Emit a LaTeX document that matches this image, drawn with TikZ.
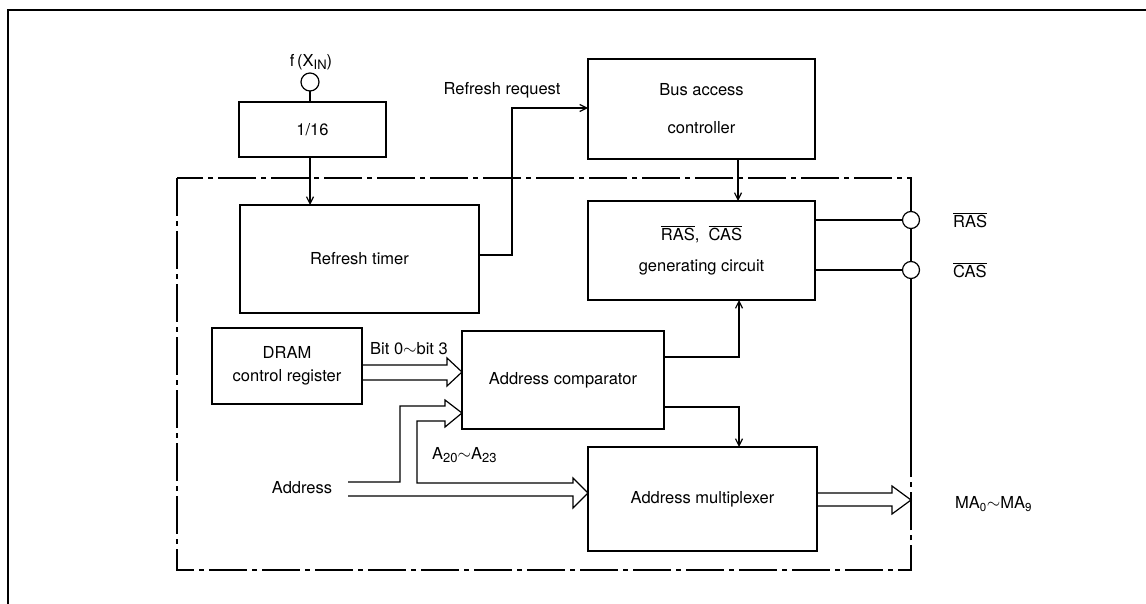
\documentclass[tikz,border=0pt]{standalone}
\usepackage{fontspec}
\setmainfont{TeX Gyre Heros}
\usetikzlibrary{arrows.meta}
\newcommand\lowsub[1]{\raisebox{-0.4ex}{\fontsize{13}{13}\selectfont #1}}
\begin{document}
\begin{tikzpicture}[x=1pt,y=-1pt,
  >={Straight Barb[length=7pt,width=7pt]},
  every node/.style={font=\fontsize{16.5}{19}\selectfont},
  blk/.style={draw,line width=2.4pt,inner sep=0pt,outer sep=0pt,align=center},
  conn/.style={line width=1.2pt},
  busline/.style={line width=1.2pt,line join=miter},
  frameline/.style={line width=2pt},
  dashdotbox/.style={line width=1.2pt,dash pattern=on 38pt off 5pt on 5pt off 5pt},
  port/.style={circle,draw,fill=white,line width=1.2pt,minimum size=17pt,inner sep=0pt,outer sep=0pt},
  lbl/.style={inner sep=0pt}]
\useasboundingbox (0,0) rectangle (1146,604);
% outer frame
\draw[frameline] (8,604) -- (8,10) -- (1146,10);
% dash-dot enclosure
\draw[dashdotbox] (177,178) rectangle (911,570);
% blocks
\node[blk,minimum width=147pt,minimum height=55pt] (div) at (312.5,129.5) {1/16};
\node[blk,minimum width=239pt,minimum height=108pt] (timer) at (359.5,259) {Refresh timer};
\node[blk,minimum width=227pt,minimum height=100pt] (bus) at (701.5,109) {Bus access\\[19pt]controller};
\node[blk,minimum width=227pt,minimum height=99pt] (rascas) at (701.5,250.5) {$\overline{\mbox{RAS}}$,\ \ $\overline{\mbox{CAS}}$\\[12pt]generating circuit};
\node[blk,minimum width=150pt,minimum height=76pt] (dram) at (287,366) {DRAM\\[4pt]control register};
\node[blk,minimum width=202pt,minimum height=98pt] (comp) at (563,380) {Address comparator};
\node[blk,minimum width=229pt,minimum height=104pt] (mux) at (702.5,499) {Address multiplexer};
% input pin
\node[port,minimum size=18pt] (fin) at (310,82) {};
\node[lbl] (finlbl) at (311,62) {f\,(X\lowsub{IN})};
\draw[conn] (fin.south) -- (fin.south |- div.north);
\draw[conn,->] (fin |- div.south) -- (fin |- timer.north);
% refresh request
\coordinate (rrA) at (512,255);
\coordinate (rrB) at (512,108);
\draw[conn,->] (timer.east |- rrA) -- (rrA) -- (rrB) -- (rrB -| bus.west);
\node[lbl] (rrlbl) at (502,90) {Refresh request};
% bus controller to RAS/CAS
\coordinate (bx) at (738,0);
\draw[conn,->] (bus.south -| bx) -- (rascas.north -| bx);
% comparator outputs
\coordinate (cx) at (739,357);
\draw[conn,->] (comp.east |- cx) -- (cx) -- (cx |- rascas.south);
\coordinate (cy) at (739,407);
\draw[conn,->] (comp.east |- cy) -- (cy) -- (cy |- mux.north);
% RAS / CAS pins
\node[port] (pras) at (911,220) {};
\node[port] (pcas) at (911,270) {};
\coordinate (pend) at (911,455);
\draw[conn] (rascas.east |- pras) -- (pras.west);
\draw[conn] (rascas.east |- pcas) -- (pcas.west);
\draw[conn] (pras.south) -- (pcas.north);
\draw[conn] (pcas.south) -- (pend);
\node[lbl,anchor=west] (raslbl) at (953,220) {$\overline{\mbox{RAS}}$};
\node[lbl,anchor=west] (caslbl) at (953,270) {$\overline{\mbox{CAS}}$};
% bit bus
\draw[busline] (dram.east |- 0,365) -- (447,365) -- (447,358) -- (comp.west |- 0,372) -- (447,386) -- (447,380) -- (dram.east |- 0,380);
\node[lbl,anchor=west] (bitlbl) at (370,349) {Bit 0$\sim$bit 3};
% address bus
\coordinate (adrA) at (348,482);
\coordinate (adrB) at (348,496);
\draw[busline] (adrA) -- (400,482) -- (400,406) -- (445,406) -- (445,400) -- (comp.west |- 0,413) -- (445,427) -- (445,421) -- (417,421) -- (417,483) -- (573,483) -- (573,478) -- (mux.west |- 0,493) -- (573,508) -- (573,496) -- (adrB);
\node[lbl] (adrlbl) at (302,488) {Address};
\node[lbl,anchor=west] (albl) at (432,455) {A\lowsub{20}$\sim$A\lowsub{23}};
% MA output bus
\draw[busline] (mux.east |- 0,493) -- (892,493) -- (892,486) -- (911,500) -- (892,514) -- (892,506) -- (mux.east |- 0,506);
\node[lbl,anchor=west] (malbl) at (955,504) {MA\textsubscript{0}$\sim$MA\textsubscript{9}};
\end{tikzpicture}
\end{document}
